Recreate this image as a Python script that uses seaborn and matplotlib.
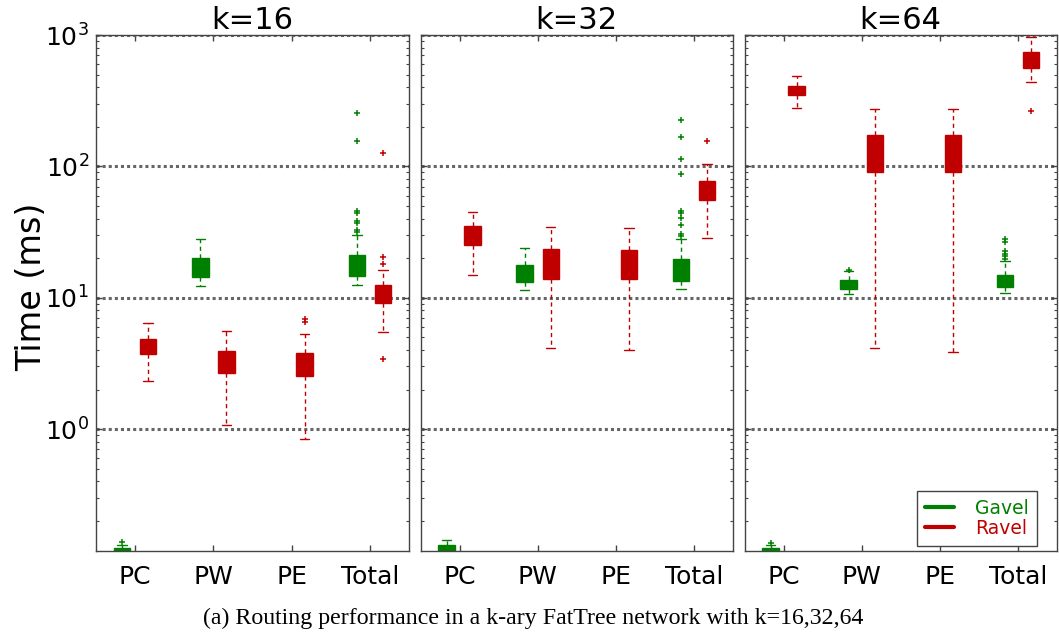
import matplotlib
matplotlib.use("Agg")
import matplotlib.pyplot as plt
from matplotlib.lines import Line2D
from matplotlib.ticker import LogLocator, NullFormatter
import seaborn as sns

sns.set_style("ticks")
plt.rcParams['font.family'] = ['DejaVu Sans']
plt.rcParams['mathtext.fontset'] = 'dejavusans'
plt.rcParams['text.color'] = 'black'
plt.rcParams['axes.labelcolor'] = 'black'

# ---------------- data ----------------
categories = ["PC", "PW", "PE", "Total"]
k_values = [16, 32, 64]
systems = ["Gavel", "Ravel"]
colors = ["#008000", "#C00000"]

# each box: [whislo, q1, median, q3, whishi]; None = no box
gavel_16 = [[0.108, 0.112, 0.118, 0.124, 0.132],
            [12.3, 14.4, 16.5, 19.9, 27.9],
            None,
            [12.5, 14.6, 17.5, 21.3, 29.8]]
gavel_16_fliers = [[0.139], [], [],
                   [31.7, 32.7, 36.8, 38.3, 43.8, 45.9, 156, 255]]
ravel_16 = [[2.31, 3.76, 4.3, 4.89, 6.47],
            [1.08, 2.66, 3.2, 3.91, 5.62],
            [0.835, 2.52, 3.1, 3.78, 5.30],
            [5.52, 9.19, 10.6, 12.4, 16.2]]
ravel_16_fliers = [[], [], [6.5, 6.9], [3.42, 18.2, 20.4, 126]]

gavel_32 = [[0.105, 0.112, 0.122, 0.132, 0.144],
            [11.5, 13.1, 15.2, 17.7, 24.1],
            None,
            [11.75, 13.4, 16.0, 19.8, 27.9]]
gavel_32_fliers = [[], [], [],
                   [29.4, 30.3, 35.5, 40.1, 44.3, 45.9, 87.3, 114, 168, 226]]
ravel_32 = [[14.9, 25.3, 30.0, 35.1, 44.9],
            [4.12, 13.9, 18.0, 23.3, 34.5],
            [3.98, 13.8, 18.0, 23.0, 34.0],
            [28.6, 55.1, 65.0, 77.6, 103.5]]
ravel_32_fliers = [[], [], [], [155]]

gavel_64 = [[0.108, 0.113, 0.119, 0.125, 0.130],
            [10.6, 11.75, 12.6, 13.6, 15.9],
            None,
            [10.8, 12.0, 13.3, 14.8, 18.9]]
gavel_64_fliers = [[0.135], [16.3], [],
                   [19.8, 20.7, 21.7, 22.7, 26.6, 27.9]]
ravel_64 = [[280, 349, 380, 411, 485],
            [4.14, 91, 125, 172, 275],
            [3.84, 91, 125, 172, 275],
            [437, 565, 650, 739, 972]]
ravel_64_fliers = [[], [], [], [264]]

panel_stats = [(gavel_16, ravel_16), (gavel_32, ravel_32), (gavel_64, ravel_64)]
panel_fliers = [(gavel_16_fliers, ravel_16_fliers),
                (gavel_32_fliers, ravel_32_fliers),
                (gavel_64_fliers, ravel_64_fliers)]

caption = "(a) Routing performance in a k-ary FatTree network with k=16,32,64"

# ---------------- figure ----------------
W, H = 1059, 637
fig = plt.figure(figsize=(W / 100, H / 100), dpi=100)
axes_px = [(96, 409), (420.5, 733), (744.5, 1057)]
top_px, bot_px = 35, 551
spine_col = "#444444"

for i, (x0, x1) in enumerate(axes_px):
    ax = fig.add_axes([x0 / W, 1 - bot_px / H, (x1 - x0) / W, (bot_px - top_px) / H])
    ax.set_yscale('log')
    for s_i in range(2):
        col = colors[s_i]
        offset = -1 / 6 if s_i == 0 else 1 / 6
        stats = panel_stats[i][s_i]
        fl = panel_fliers[i][s_i]
        bstats, pos = [], []
        for c_i, st in enumerate(stats):
            if st is None:
                continue
            bstats.append(dict(whislo=st[0], q1=st[1], med=st[2], q3=st[3],
                               whishi=st[4], fliers=fl[c_i]))
            pos.append(c_i + 0.5 + offset)
        ax.bxp(bstats, positions=pos, widths=0.21, capwidths=0.12,
               patch_artist=True, manage_ticks=False,
               boxprops=dict(facecolor=col, edgecolor=col, linewidth=1),
               medianprops=dict(color=col, linewidth=1),
               whiskerprops=dict(color=col, linestyle=(0, (3, 2.5)), linewidth=1),
               capprops=dict(color=col, linewidth=1),
               flierprops=dict(marker='+', markeredgecolor=col, markersize=4,
                               markeredgewidth=1.1, linestyle='none'))

    ax.set_xlim(0, 4)
    ax.set_ylim(0.118, 1000)
    ax.set_xticks([c + 0.5 for c in range(len(categories))])
    ax.set_xticklabels(categories, fontsize=18)
    ax.set_yticks([1, 10, 100, 1000])
    ax.yaxis.set_minor_locator(LogLocator(base=10, subs=range(2, 10)))
    ax.yaxis.set_minor_formatter(NullFormatter())
    ax.yaxis.grid(True, which='major', linestyle=(0, (1, 1)), linewidth=2.2,
                  color='#666666')
    ax.xaxis.grid(False)
    ax.tick_params(which='both', direction='in', top=True, right=True,
                   colors=spine_col, labelcolor='black')
    ax.tick_params(which='major', length=4, width=1)
    ax.tick_params(which='minor', length=2, width=0.8)
    ax.tick_params(axis='x', pad=10)
    ax.tick_params(axis='y', labelsize=18, pad=5)
    for sp in ax.spines.values():
        sp.set_color(spine_col)
        sp.set_linewidth(1)
    ax.set_title(f"k={k_values[i]}", fontsize=22, pad=3, color='black')
    if i == 0:
        ax.set_ylabel("Time (ms)", fontsize=24, color='black')
        ax.yaxis.set_label_coords(-0.153, 0.512)
    else:
        ax.tick_params(labelleft=False)
    if i == 2:
        handles = [Line2D([], [], color=c, lw=3) for c in colors]
        leg = ax.legend(handles, systems, loc='lower right',
                        bbox_to_anchor=(0.936, 0.009), borderaxespad=0,
                        fontsize=13.5, fancybox=False, framealpha=1,
                        edgecolor=spine_col, handlelength=1.55,
                        borderpad=0.45, labelspacing=0.05,
                        handletextpad=1.1)
        leg.get_frame().set_linewidth(1)
        for t, c in zip(leg.get_texts(), colors):
            t.set_color(c)

fig.text(533.5 / W, 1 - 618 / H, caption, family=['Liberation Serif'],
         fontsize=17.2, ha='center', va='center', color='black')

fig.savefig("out.png", dpi=100)
